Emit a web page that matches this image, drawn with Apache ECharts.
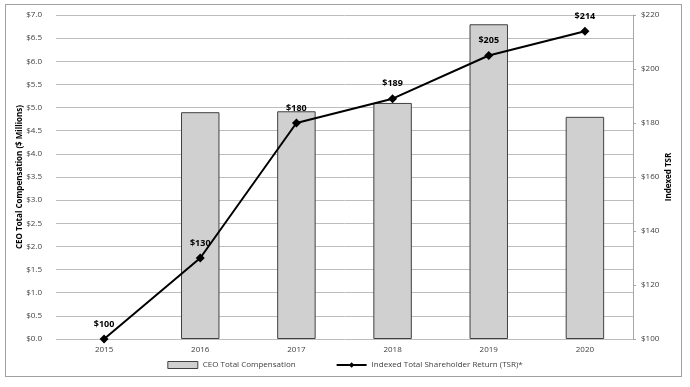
<!DOCTYPE html>
<html><head><meta charset="utf-8">
<script src="https://cdn.jsdelivr.net/npm/echarts@6/dist/echarts.min.js"></script>
<style>html,body{margin:0;padding:0;background:#fff}#c{width:690px;height:387px}
#frame{position:absolute;left:5px;top:4px;width:677px;height:373px;border:1px solid #a0a0a0;box-sizing:border-box;pointer-events:none}</style>
</head><body><div id="c"></div><div id="frame"></div>
<script>
const years = ['2015','2016','2017','2018','2019','2020'];
const compensation = [0, 4.9, 4.92, 5.1, 6.8, 4.8];
const tsr = [100, 130, 180, 189, 205, 214];
const tsrLabels = ['$100','$130','$180','$189','$205','$214'];

const chart = echarts.init(document.getElementById('c'));
const font = 'Open Sans';
chart.setOption({
  animation: false,
  textStyle: {fontFamily: font},
  grid: {left: 56, right: 57, top: 15, bottom: 48},
  legend: {
    bottom: 13, left: 'center', itemGap: 40, itemWidth: 30, itemHeight: 7,
    textStyle: {fontSize: 8, color: '#404040', fontFamily: font},
    data: [
      {name: 'CEO Total Compensation', icon: 'rect', itemStyle: {color: '#d0d0d0', borderColor: '#404040', borderWidth: 1}},
      {name: 'Indexed Total Shareholder Return (TSR)*'}
    ]
  },
  xAxis: {
    type: 'category', data: years,
    axisLine: {show: false}, axisTick: {show: false},
    axisLabel: {fontSize: 8, color: '#404040', margin: 7}
  },
  yAxis: [
    {
      type: 'value', min: 0, max: 7, interval: 0.5,
      name: 'CEO Total Compensation ($ Millions)', nameLocation: 'middle', nameGap: 32,
      nameMoveOverlap: false,
      nameTextStyle: {fontSize: 8, fontWeight: 'bold', color: '#000'},
      axisLabel: {fontSize: 8, color: '#404040', margin: 14, formatter: v => '$' + v.toFixed(1)},
      splitLine: {lineStyle: {color: '#bdbdbd'}},
      axisLine: {show: false}, axisTick: {show: false}
    },
    {
      type: 'value', min: 100, max: 220, interval: 20, position: 'right',
      name: 'Indexed TSR', nameLocation: 'middle', nameGap: 32,
      nameMoveOverlap: false,
      nameTextStyle: {fontSize: 8, fontWeight: 'bold', color: '#000'},
      axisLabel: {fontSize: 8, color: '#404040', margin: 8, formatter: v => '$' + v},
      splitLine: {show: false},
      axisLine: {show: true, lineStyle: {color: '#a6a6a6'}},
      axisTick: {show: true, length: 3, lineStyle: {color: '#a6a6a6'}}
    }
  ],
  series: [
    {
      name: 'CEO Total Compensation', type: 'bar', barWidth: '40%',
      data: compensation.map(v => ({value: v, itemStyle: {borderWidth: v > 0 ? 1 : 0}})),
      itemStyle: {color: '#d0d0d0', borderColor: '#404040', borderWidth: 1}
    },
    {
      name: 'Indexed Total Shareholder Return (TSR)*', type: 'line', yAxisIndex: 1, data: tsr,
      symbol: 'diamond', symbolSize: 9,
      lineStyle: {color: '#000', width: 2}, itemStyle: {color: '#000'},
      label: {show: true, position: 'top', distance: 6, fontSize: 9, fontWeight: 'bold', color: '#000',
        formatter: p => tsrLabels[p.dataIndex]}
    }
  ]
});
</script></body></html>
